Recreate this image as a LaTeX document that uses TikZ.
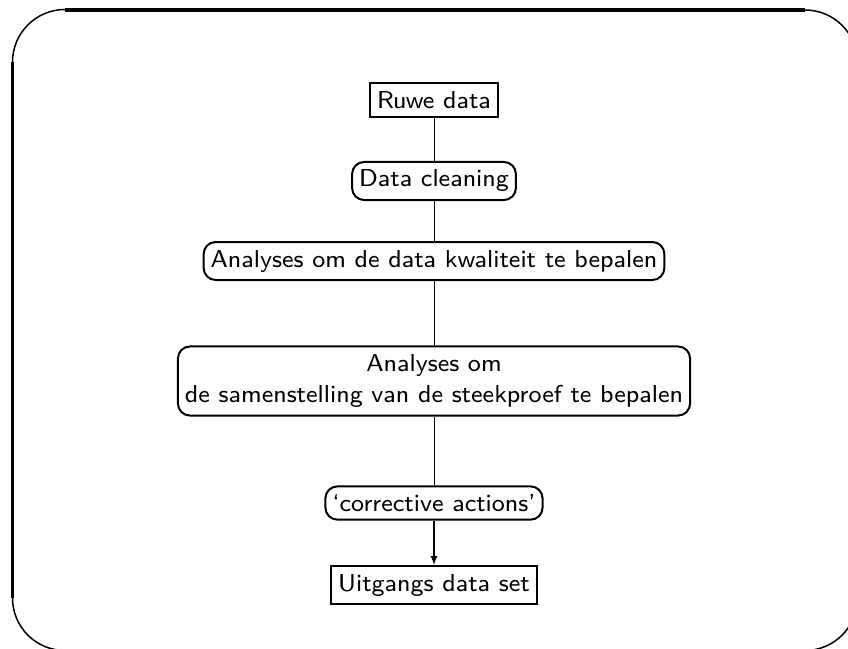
\documentclass[tikz,border=0pt]{standalone}
\usepackage{fontspec}
\newfontfamily\slidefont[Ligatures=TeX]{lmsans8-regular.otf}
\begin{document}
\begin{tikzpicture}[x=1pt,y=-1pt,
  every node/.style={font=\fontsize{24.5}{31}\selectfont\slidefont},
  plainbox/.style={draw,line width=2pt,inner xsep=7pt,inner ysep=8pt},
  roundbox/.style={draw,line width=2pt,rounded corners=12pt,inner xsep=7pt,inner ysep=8pt,align=center}]
 \useasboundingbox (0,0) rectangle (848,648);
 % slide frame
 \draw [line width=3.5pt] (65,10) -- (805,10);
 \draw [line width=3.5pt] (12.5,62) -- (12.5,598);
 \draw [line width=3.5pt] (65,650.5) -- (805,650.5);
 \draw [line width=3.5pt] (857.5,62) -- (857.5,598);
 \draw [line width=1.5pt] (12.5,62) arc (180:270:52.5);
 \draw [line width=1.5pt] (805,10) arc (270:360:52.5);
 \draw [line width=1.5pt] (12.5,598) arc (180:90:52.5);
 \draw [line width=1.5pt] (805,650.5) arc (90:0:52.5);
 % flow
 \node [plainbox] (ruwe) at (434,100) {Ruwe data};
 \node [roundbox] (cleaning) at (434,181) {Data cleaning};
 \node [roundbox] (kwaliteit) at (434,261) {Analyses om de data kwaliteit te bepalen};
 \node [roundbox] (steekproef) at (434,381) {Analyses om\\de samenstelling van de steekproef te bepalen};
 \node [roundbox] (corrective) at (434,503) {`corrective actions'};
 \node [plainbox] (uitgangs) at (434,585) {Uitgangs data set};
 \draw [line width=0.8pt] (ruwe) -- (cleaning);
 \draw [line width=0.8pt] (cleaning) -- (kwaliteit);
 \draw [line width=0.8pt] (kwaliteit) -- (steekproef);
 \draw [line width=0.8pt] (steekproef) -- (corrective);
 \draw [line width=2pt,-latex] (corrective) -- (uitgangs);
\end{tikzpicture}
\end{document}
